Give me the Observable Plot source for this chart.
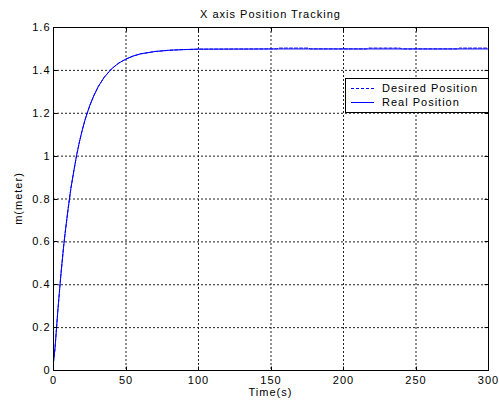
<!DOCTYPE html>
<html>
<head>
<meta charset="utf-8">
<script src="https://cdn.jsdelivr.net/npm/d3@7"></script>
<script src="https://cdn.jsdelivr.net/npm/@observablehq/plot@0.6"></script>
<style>
  html, body { margin: 0; padding: 0; background: #fff; }
  #chart svg { display: block; }
</style>
</head>
<body>
<div id="chart"></div>
<script>
// ---- data ----
const titleText = "X axis Position Tracking";
const xLabel = "Time(s)";
const yLabel = "m(meter)";
const seriesNames = ["Desired Position", "Real Position"];

const time = [0, 1, 2, 3, 4, 5, 6, 7, 8, 10, 12, 14, 16, 18, 20, 22, 25, 28, 31, 35, 40, 45, 50, 55, 60, 70, 80, 90, 100, 154, 155, 176, 177, 216, 217, 239, 240, 279, 280, 300];
const realPos = [0.04, 0.10, 0.19, 0.28, 0.36, 0.44, 0.51, 0.58, 0.64, 0.75, 0.85, 0.93, 1.006, 1.07, 1.126, 1.175, 1.236, 1.285, 1.326, 1.368, 1.407, 1.434, 1.453, 1.467, 1.477, 1.488, 1.494, 1.497, 1.499, 1.5, 1.5, 1.5, 1.5, 1.5, 1.5, 1.5, 1.5, 1.5, 1.5, 1.5];
const desiredPos = [0.04, 0.10, 0.19, 0.28, 0.36, 0.44, 0.51, 0.58, 0.64, 0.75, 0.85, 0.93, 1.006, 1.07, 1.126, 1.175, 1.236, 1.285, 1.326, 1.368, 1.407, 1.434, 1.453, 1.467, 1.477, 1.488, 1.494, 1.497, 1.499, 1.5, 1.504, 1.504, 1.5, 1.5, 1.504, 1.504, 1.5, 1.5, 1.504, 1.504];

const xTicks = [0, 50, 100, 150, 200, 250, 300];
const yTicks = [0, 0.2, 0.4, 0.6, 0.8, 1, 1.2, 1.4, 1.6];
const yTickLabels = ["0", "0.2", "0.4", "0.6", "0.8", "1", "1.2", "1.4", "1.6"];
const xDomain = [0, 300];
const yDomain = [0, 1.6];

// ---- build ----
const rows = time.map((t, i) => ({t, real: realPos[i], desired: desiredPos[i]}));
const FONT = "'Liberation Sans', Arial, Helvetica, sans-serif";
const lineColor = "#0000ff";

const plot = Plot.plot({
  width: 499,
  height: 405,
  marginLeft: 53,
  marginTop: 27,
  marginRight: 11,
  marginBottom: 35,
  style: {fontFamily: FONT, fontSize: "11px", color: "#000", background: "#fff", letterSpacing: "1px"},
  x: {domain: xDomain},
  y: {domain: yDomain},
  marks: [
    Plot.gridX(xTicks.slice(1, -1), {stroke: "#222", strokeOpacity: 1, strokeDasharray: "2,2"}),
    Plot.gridY(yTicks.slice(1, -1), {stroke: "#222", strokeOpacity: 1, strokeDasharray: "2,2"}),
    Plot.axisX(xTicks, {tickSize: 0, tickPadding: 6, label: null, tickFormat: d => String(d), fill: "#000"}),
    Plot.axisY(yTicks, {tickSize: 0, tickPadding: 3, label: null, tickFormat: d => yTickLabels[yTicks.indexOf(d)], fill: "#000"}),
    Plot.line(rows, {x: "t", y: "desired", stroke: lineColor, strokeWidth: 1, strokeDasharray: "3,2"}),
    Plot.line(rows, {x: "t", y: "real", stroke: lineColor, strokeWidth: 1}),
    Plot.frame({stroke: "#000", strokeWidth: 1})
  ]
});

document.getElementById("chart").appendChild(plot);

// inward ticks, titles, legend
const sx = plot.scale("x"), sy = plot.scale("y");
const svg = d3.select(plot);
const x0 = sx.apply(xDomain[0]), x1 = sx.apply(xDomain[1]);
const y0 = sy.apply(yDomain[0]), y1 = sy.apply(yDomain[1]);
const tl = 4;
const g = svg.append("g").attr("stroke", "#000").attr("stroke-width", 1).attr("transform", "translate(0.5,0.5)");
xTicks.forEach(v => {
  const px = Math.round(sx.apply(v));
  g.append("line").attr("x1", px).attr("x2", px).attr("y1", y0).attr("y2", y0 - tl);
  g.append("line").attr("x1", px).attr("x2", px).attr("y1", y1).attr("y2", y1 + tl);
});
yTicks.forEach(v => {
  const py = Math.round(sy.apply(v));
  g.append("line").attr("y1", py).attr("y2", py).attr("x1", x0).attr("x2", x0 + tl);
  g.append("line").attr("y1", py).attr("y2", py).attr("x1", x1).attr("x2", x1 - tl);
});

const txt = svg.append("g").attr("font-family", FONT).attr("font-size", 11).attr("fill", "#000").attr("letter-spacing", "1px");
txt.append("text").attr("x", (x0 + x1) / 2).attr("y", 18).attr("text-anchor", "middle").text(titleText);
txt.append("text").attr("x", (x0 + x1) / 2).attr("y", 396).attr("text-anchor", "middle").text(xLabel);
txt.append("text").attr("transform", `translate(22,${(y0 + y1) / 2}) rotate(-90)`).attr("text-anchor", "middle").text(yLabel);

// legend
const lg = svg.append("g");
const lx = 345, ly = 78, lw = x1 - lx, lh = 34;
lg.append("rect").attr("x", lx + 0.5).attr("y", ly + 0.5).attr("width", lw).attr("height", lh).attr("fill", "#fff").attr("stroke", "#000");
const entries = [
  {name: seriesNames[0], dash: "3,2", y: ly + 10},
  {name: seriesNames[1], dash: null, y: ly + 24}
];
entries.forEach(e => {
  lg.append("line").attr("x1", lx + 6).attr("x2", lx + 29).attr("y1", e.y + 0.5).attr("y2", e.y + 0.5)
    .attr("stroke", lineColor).attr("stroke-width", 1).attr("stroke-dasharray", e.dash);
  lg.append("text").attr("x", lx + 37).attr("y", e.y + 4).attr("text-anchor", "start")
    .attr("font-family", FONT).attr("font-size", 11)
    .attr("letter-spacing", "1px").attr("fill", "#000").text(e.name);
});
</script>
</body>
</html>
